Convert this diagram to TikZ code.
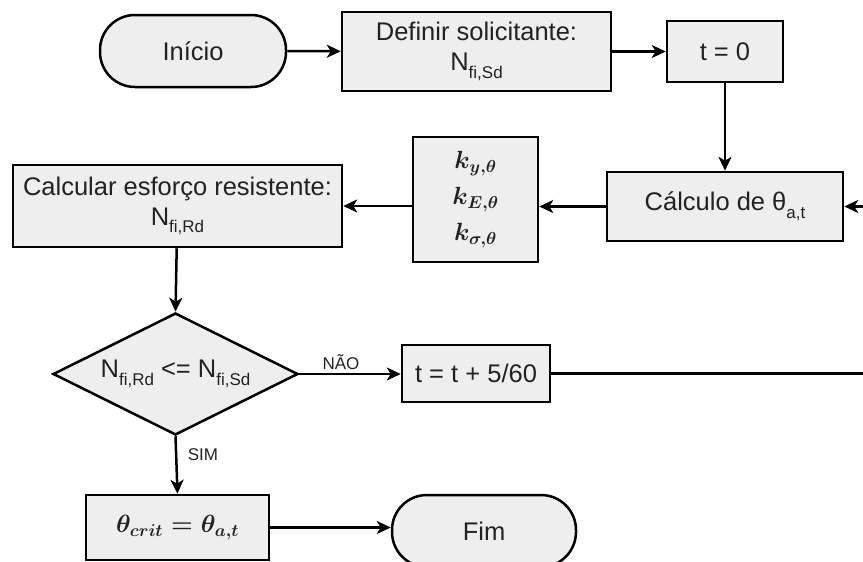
\documentclass[tikz,border=0pt]{standalone}
\usepackage{fontspec}
\setmainfont{Liberation Sans}
\usetikzlibrary{shapes.geometric,arrows.meta}
\definecolor{boxfill}{HTML}{EEEEEE}
\definecolor{txt}{HTML}{222222}
\newcommand\lowsub[1]{\raisebox{-0.3em}{\fontsize{17}{17}\selectfont #1}}
\begin{document}
\begin{tikzpicture}[x=1pt,y=-1pt,
  every node/.style={font=\fontsize{25.5}{30}\selectfont, text=txt},
  proc/.style={draw, line width=2.5pt, fill=boxfill, inner sep=0pt, align=center},
  term/.style={proc, rounded corners=35pt},
  dec/.style={draw, line width=2.5pt, fill=boxfill, diamond, inner sep=0pt, aspect=2},
  conn/.style={line width=2.5pt, -{Stealth[length=14pt,width=13pt,inset=4pt]}},
  lbl/.style={font=\fontsize{17}{17}\selectfont, inner sep=0pt},
  mathbox/.style={font=\fontsize{27}{36}\selectfont\boldmath}
]
\clip (0,0) rectangle (863,562);
\path[use as bounding box] (0,0) rectangle (863,562);

\node[term, minimum width=186pt, minimum height=72pt] (inicio) at (193,51) {Início};
\node[proc, minimum width=269pt, minimum height=79pt] (definir) at (476.5,51.5) {Definir solicitante:\\N\lowsub{fi,Sd}};
\node[proc, minimum width=116pt, minimum height=61pt] (t0) at (725,51.5) {t = 0};
\node[proc, minimum width=236pt, minimum height=69pt] (calc) at (725,206.5) {Cálculo de θ\lowsub{a,t}};
\node[proc, mathbox, minimum width=125pt, minimum height=125pt] (kbox) at (475.5,199.5) {$k_{y,\theta}$\\$k_{E,\theta}$\\$k_{\sigma,\theta}$};
\node[proc, minimum width=329pt, minimum height=82pt] (calcular) at (177.5,206) {Calcular esforço resistente:\\N\lowsub{fi,Rd}};
\node[dec, minimum width=245pt, minimum height=122pt] (dec) at (175.5,374) {N\lowsub{fi,Rd} <= N\lowsub{fi,Sd}};
\node[proc, minimum width=148pt, minimum height=57pt] (tinc) at (476,373.5) {t = t + 5/60};
\node[proc, mathbox, minimum width=183pt, minimum height=65pt] (theta) at (177.5,527.5) {$\theta_{crit} = \theta_{a,t}$};
\node[term, minimum width=184pt, minimum height=72pt] (fim) at (484,531) {Fim};

\node[lbl] (nao) at (341,362) {NÃO};
\node[lbl] (sim) at (203,455) {SIM};

\coordinate (loopA) at (880,373.5);
\coordinate (loopB) at (880,206.5);

\draw[conn] (inicio) -- (definir);
\draw[conn] (definir) -- (t0);
\draw[conn] (t0) -- (calc);
\draw[conn] (tinc.east) -- (loopA) -- (loopB) -- (calc.east);
\draw[conn] (calc) -- (kbox.east |- calc.west);
\draw[conn] (kbox.west |- calcular.east) -- (calcular.east);
\draw[conn] (calcular) -- (dec.north);
\draw[conn] (dec.east) -- (tinc.west |- dec.east);
\draw[conn] (dec.south) -- (theta.north);
\draw[conn] (theta.east) -- (fim.west |- theta.east);
\end{tikzpicture}
\end{document}
